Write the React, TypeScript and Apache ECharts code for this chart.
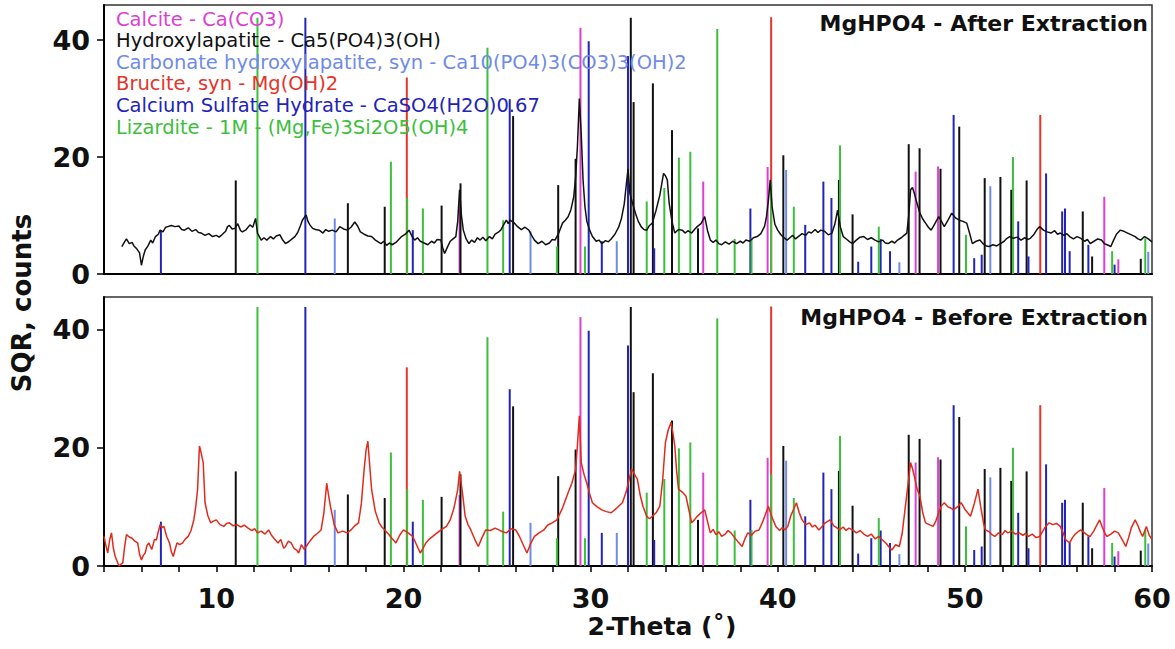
import React, { useEffect, useRef } from "react";
import * as echarts from "echarts";

// ---------- axis ranges & ticks ----------
const X_MIN = 4;
const X_MAX = 60;
const X_TICK_STEP = 2;
const X_LABELS = [10, 20, 30, 40, 50, 60];
const Y_MAX_TOP = 46;
const Y_MAX_BOTTOM = 45.5;
const Y_TICKS = [0, 20, 40];

// ---------- measured patterns (2θ, SQR counts) ----------
const afterTheta = [4.95, 5.1, 5.2, 5.35, 5.5, 5.6, 5.75, 5.9, 6.0, 6.1, 6.2, 6.35, 6.5, 6.6, 6.75, 6.9, 7.0, 7.15, 7.3, 7.4, 7.6, 7.8, 8.0, 8.15, 8.3, 8.5, 8.7, 8.9, 9.05, 9.2, 9.4, 9.6, 9.8, 10.0, 10.15, 10.3, 10.5, 10.6, 10.7, 10.85, 11.0, 11.15, 11.3, 11.4, 11.6, 11.8, 11.95, 12.1, 12.2, 12.4, 12.55, 12.7, 12.9, 13.05, 13.2, 13.4, 13.55, 13.7, 13.9, 14.05, 14.2, 14.35, 14.5, 14.6, 14.8, 14.9, 15.0, 15.15, 15.3, 15.5, 15.7, 15.85, 16.0, 16.2, 16.4, 16.6, 16.8, 17.0, 17.2, 17.4, 17.55, 17.7, 17.9, 18.1, 18.3, 18.5, 18.65, 18.8, 18.95, 19.1, 19.25, 19.4, 19.6, 19.75, 19.9, 20.1, 20.3, 20.45, 20.6, 20.75, 20.9, 21.1, 21.3, 21.5, 21.65, 21.8, 22.0, 22.1, 22.2, 22.35, 22.5, 22.65, 22.8, 22.9, 23.0, 23.1, 23.2, 23.35, 23.5, 23.65, 23.8, 23.95, 24.1, 24.25, 24.4, 24.6, 24.75, 24.9, 25.05, 25.2, 25.35, 25.5, 25.6, 25.7, 25.9, 26.1, 26.3, 26.5, 26.7, 26.85, 27.0, 27.2, 27.4, 27.6, 27.8, 27.95, 28.1, 28.3, 28.5, 28.65, 28.8, 28.95, 29.1, 29.2, 29.3, 29.4, 29.5, 29.6, 29.7, 29.8, 29.95, 30.1, 30.3, 30.45, 30.6, 30.8, 30.95, 31.1, 31.3, 31.5, 31.65, 31.8, 31.9, 32.0, 32.1, 32.25, 32.4, 32.55, 32.7, 32.85, 33.0, 33.15, 33.3, 33.5, 33.7, 33.9, 34.0, 34.1, 34.2, 34.35, 34.5, 34.7, 34.9, 35.05, 35.2, 35.4, 35.55, 35.7, 35.9, 36.1, 36.25, 36.4, 36.55, 36.7, 36.85, 37.0, 37.2, 37.4, 37.6, 37.8, 38.0, 38.15, 38.3, 38.5, 38.7, 38.9, 39.1, 39.3, 39.4, 39.5, 39.6, 39.7, 39.85, 40.0, 40.15, 40.3, 40.5, 40.65, 40.8, 40.95, 41.1, 41.3, 41.5, 41.65, 41.8, 42.0, 42.15, 42.3, 42.5, 42.7, 42.9, 43.05, 43.2, 43.35, 43.5, 43.7, 43.85, 44.0, 44.2, 44.4, 44.6, 44.8, 45.0, 45.2, 45.4, 45.6, 45.75, 45.9, 46.1, 46.25, 46.4, 46.6, 46.75, 46.9, 47.0, 47.1, 47.2, 47.3, 47.45, 47.6, 47.75, 47.9, 48.05, 48.2, 48.4, 48.6, 48.75, 48.9, 49.1, 49.3, 49.5, 49.7, 49.9, 50.1, 50.25, 50.4, 50.6, 50.8, 51.0, 51.15, 51.3, 51.5, 51.7, 51.9, 52.1, 52.25, 52.4, 52.6, 52.8, 53.0, 53.2, 53.35, 53.5, 53.7, 53.85, 54.0, 54.2, 54.4, 54.6, 54.8, 54.95, 55.1, 55.3, 55.45, 55.6, 55.8, 56.0, 56.2, 56.4, 56.55, 56.7, 56.9, 57.1, 57.3, 57.45, 57.6, 57.8, 57.95, 58.1, 58.3, 58.5, 58.7, 58.9, 59.1, 59.25, 59.4, 59.6, 59.8, 60.0];
const afterCounts = [4.7, 5.5, 6.0, 5.2, 5.4, 4.8, 4.3, 3.6, 1.5, 3.0, 4.1, 4.8, 5.8, 5.3, 6.4, 6.8, 7.5, 7.2, 8.0, 8.1, 8.3, 8.1, 8.2, 7.6, 7.5, 7.9, 7.3, 7.6, 7.1, 7.0, 6.6, 6.9, 6.4, 6.6, 6.3, 6.7, 7.3, 8.1, 8.3, 7.7, 7.8, 8.6, 7.4, 7.2, 7.6, 8.4, 8.0, 9.5, 7.0, 5.8, 6.2, 5.8, 6.4, 6.0, 6.5, 6.7, 5.8, 5.2, 5.6, 6.0, 6.4, 7.1, 8.3, 9.2, 10.1, 9.0, 8.4, 7.8, 7.6, 7.5, 7.0, 7.6, 7.3, 7.5, 7.2, 8.1, 7.7, 7.5, 8.0, 8.9, 8.2, 7.2, 6.8, 6.5, 6.4, 5.8, 5.5, 5.2, 5.6, 4.9, 5.3, 5.0, 5.4, 5.9, 6.4, 6.8, 7.5, 6.5, 5.8, 6.2, 5.6, 5.3, 5.0, 5.6, 5.3, 5.9, 5.8, 4.5, 3.5, 4.6, 5.6, 6.0, 6.4, 9.0, 14.4, 10.0, 7.5, 6.0, 5.2, 5.8, 5.4, 6.2, 5.8, 6.3, 5.7, 6.4, 6.0, 6.8, 7.1, 7.5, 8.4, 9.2, 8.6, 9.2, 8.8, 8.1, 7.6, 8.0, 7.5, 6.6, 5.8, 5.2, 5.6, 5.0, 5.3, 5.9, 5.8, 7.0, 8.7, 9.2, 9.8, 11.0, 13.2, 16.5, 22.0, 30.0, 24.0, 16.0, 11.5, 9.0, 7.5, 6.4, 5.6, 5.8, 5.2, 5.7, 5.5, 6.0, 6.8, 8.0, 9.5, 12.0, 15.0, 18.0, 13.8, 12.0, 10.4, 9.0, 8.1, 7.6, 7.5, 8.3, 8.7, 10.9, 13.5, 17.2, 16.8, 16.1, 12.1, 9.0, 7.0, 7.6, 7.5, 7.0, 7.4, 7.0, 7.6, 8.1, 8.6, 9.8, 7.4, 5.8, 5.4, 5.8, 5.2, 5.0, 5.5, 5.1, 5.6, 5.2, 5.6, 5.3, 5.8, 5.6, 6.2, 6.4, 6.9, 8.2, 9.8, 12.5, 16.1, 11.5, 8.5, 7.5, 6.8, 6.3, 5.8, 6.2, 6.6, 6.0, 6.4, 6.9, 6.6, 7.2, 7.0, 7.6, 7.1, 7.5, 7.3, 6.7, 7.0, 8.5, 10.9, 8.0, 6.4, 5.9, 5.5, 5.2, 5.8, 6.3, 6.4, 5.9, 6.2, 5.8, 5.5, 5.8, 5.3, 5.2, 5.6, 5.3, 5.8, 6.2, 6.6, 7.0, 10.0, 14.4, 14.8, 13.8, 12.0, 10.4, 9.4, 8.7, 8.0, 7.5, 8.6, 9.8, 9.0, 8.1, 9.2, 10.4, 9.6, 9.2, 9.0, 8.7, 7.0, 5.2, 5.6, 5.8, 5.1, 4.8, 4.7, 5.0, 4.8, 5.2, 5.6, 6.1, 6.4, 6.1, 6.3, 5.8, 6.2, 5.9, 6.1, 6.8, 7.6, 8.1, 7.5, 7.2, 7.0, 7.4, 6.8, 7.0, 6.6, 6.9, 6.4, 6.0, 6.4, 6.1, 5.6, 5.9, 5.2, 5.6, 6.0, 5.8, 5.2, 5.0, 4.7, 5.8, 6.8, 7.5, 7.3, 7.0, 6.7, 6.4, 6.0, 5.8, 6.4, 6.0, 5.5];

const beforeTheta = [4.0, 4.1, 4.2, 4.3, 4.4, 4.5, 4.6, 4.7, 4.8, 4.9, 5.0, 5.1, 5.2, 5.35, 5.5, 5.65, 5.8, 5.9, 6.0, 6.1, 6.2, 6.3, 6.4, 6.55, 6.7, 6.8, 6.9, 7.0, 7.1, 7.2, 7.35, 7.5, 7.6, 7.7, 7.8, 7.9, 8.05, 8.2, 8.35, 8.5, 8.65, 8.8, 8.9, 9.0, 9.1, 9.2, 9.3, 9.4, 9.55, 9.7, 9.85, 10.0, 10.2, 10.4, 10.55, 10.7, 10.9, 11.1, 11.3, 11.5, 11.7, 11.9, 12.05, 12.2, 12.4, 12.6, 12.8, 12.95, 13.1, 13.3, 13.45, 13.6, 13.7, 13.85, 14.0, 14.15, 14.3, 14.4, 14.55, 14.7, 14.8, 15.0, 15.2, 15.4, 15.6, 15.75, 15.9, 16.0, 16.1, 16.3, 16.5, 16.75, 17.0, 17.2, 17.4, 17.6, 17.75, 17.9, 18.0, 18.1, 18.2, 18.3, 18.5, 18.7, 18.85, 19.0, 19.2, 19.4, 19.6, 19.8, 20.0, 20.25, 20.5, 20.7, 20.9, 21.05, 21.2, 21.4, 21.6, 21.8, 22.05, 22.3, 22.5, 22.7, 22.9, 23.0, 23.15, 23.3, 23.45, 23.6, 23.8, 24.0, 24.2, 24.4, 24.65, 24.9, 25.1, 25.3, 25.5, 25.75, 26.0, 26.2, 26.4, 26.6, 26.8, 27.0, 27.25, 27.5, 27.7, 27.95, 28.2, 28.5, 28.8, 29.0, 29.2, 29.3, 29.4, 29.5, 29.65, 29.8, 29.95, 30.1, 30.35, 30.6, 30.85, 31.1, 31.4, 31.7, 31.9, 32.1, 32.2, 32.35, 32.5, 32.65, 32.8, 33.0, 33.15, 33.3, 33.5, 33.7, 33.85, 34.0, 34.15, 34.3, 34.4, 34.5, 34.6, 34.7, 34.9, 35.1, 35.25, 35.4, 35.55, 35.7, 35.9, 36.1, 36.25, 36.4, 36.55, 36.7, 36.85, 37.0, 37.2, 37.35, 37.5, 37.7, 37.9, 38.1, 38.25, 38.4, 38.6, 38.8, 39.0, 39.2, 39.35, 39.5, 39.7, 39.9, 40.1, 40.25, 40.4, 40.55, 40.7, 40.85, 41.0, 41.15, 41.3, 41.5, 41.7, 41.85, 42.0, 42.2, 42.35, 42.5, 42.65, 42.8, 43.0, 43.15, 43.3, 43.5, 43.65, 43.8, 44.0, 44.2, 44.4, 44.6, 44.8, 45.0, 45.2, 45.4, 45.6, 45.8, 45.95, 46.1, 46.3, 46.5, 46.65, 46.8, 46.95, 47.1, 47.2, 47.3, 47.45, 47.6, 47.75, 47.9, 48.1, 48.3, 48.45, 48.6, 48.75, 48.9, 49.1, 49.25, 49.4, 49.6, 49.8, 50.0, 50.15, 50.3, 50.5, 50.7, 50.85, 51.0, 51.1, 51.3, 51.45, 51.6, 51.8, 52.0, 52.15, 52.3, 52.5, 52.7, 52.9, 53.1, 53.25, 53.4, 53.6, 53.8, 54.0, 54.15, 54.3, 54.5, 54.7, 54.9, 55.1, 55.25, 55.4, 55.6, 55.75, 55.9, 56.05, 56.2, 56.4, 56.55, 56.7, 56.9, 57.05, 57.2, 57.35, 57.5, 57.6, 57.8, 58.0, 58.2, 58.4, 58.6, 58.75, 58.9, 59.1, 59.25, 59.4, 59.5, 59.7, 59.85, 60.0];
const beforeCounts = [5.0, 3.5, 2.2, 4.4, 5.6, 3.0, 1.6, 0.8, 0, 0.3, 0.5, 3.2, 5.3, 4.9, 4.7, 4.2, 3.9, 2.0, 1.0, 1.8, 2.2, 3.5, 3.9, 2.8, 4.5, 4.4, 5.8, 7.0, 6.5, 6.7, 5.0, 3.9, 2.4, 1.6, 2.8, 3.9, 3.6, 3.9, 4.6, 5.0, 6.0, 7.8, 10.0, 12.9, 20.3, 19.0, 17.5, 10.7, 8.5, 7.3, 7.6, 7.8, 7.0, 6.7, 7.2, 7.3, 6.8, 7.0, 6.6, 6.9, 6.4, 6.0, 6.3, 5.6, 5.9, 5.4, 6.1, 5.2, 4.6, 3.9, 4.5, 3.0, 3.3, 4.2, 3.9, 3.0, 2.7, 2.2, 3.6, 2.8, 3.3, 4.2, 5.0, 5.5, 6.1, 9.0, 14.0, 12.0, 10.1, 7.0, 5.6, 5.9, 5.6, 6.1, 6.8, 7.3, 10.5, 16.3, 19.5, 21.1, 17.0, 12.9, 9.2, 7.3, 6.6, 6.1, 5.4, 4.6, 3.9, 5.2, 6.1, 5.6, 5.0, 3.6, 2.2, 3.0, 3.9, 4.6, 5.1, 5.6, 6.2, 6.7, 7.8, 9.8, 12.9, 16.0, 12.5, 8.4, 7.0, 6.1, 4.6, 3.3, 4.8, 6.1, 6.0, 6.4, 6.1, 5.8, 5.6, 6.3, 6.1, 5.0, 3.6, 2.2, 3.8, 5.0, 5.6, 6.1, 6.9, 7.3, 7.8, 9.8, 12.4, 14.0, 16.3, 20.5, 25.4, 17.5, 15.5, 14.0, 12.2, 10.7, 10.0, 9.5, 9.2, 9.0, 9.8, 10.7, 12.5, 15.2, 16.4, 15.5, 14.7, 12.0, 10.1, 8.4, 8.0, 8.4, 9.0, 10.1, 14.5, 20.9, 23.0, 24.3, 22.5, 20.3, 16.0, 13.0, 12.5, 11.8, 9.5, 7.3, 7.8, 8.4, 9.0, 9.5, 7.5, 5.6, 6.2, 5.3, 5.8, 5.0, 5.4, 6.0, 5.6, 4.8, 4.0, 3.3, 4.6, 5.6, 5.2, 5.9, 6.1, 7.5, 8.8, 10.1, 8.2, 6.7, 6.0, 6.5, 6.1, 6.8, 8.5, 9.6, 10.7, 9.0, 7.8, 7.0, 7.3, 6.6, 6.9, 6.1, 6.6, 7.2, 7.5, 7.8, 6.8, 6.5, 6.1, 6.6, 6.0, 6.4, 6.1, 5.6, 6.0, 5.4, 5.0, 5.4, 4.6, 5.0, 4.4, 3.8, 3.2, 2.7, 3.6, 3.3, 5.5, 9.5, 13.5, 17.5, 16.5, 15.2, 13.0, 11.8, 9.0, 7.3, 7.0, 6.7, 7.6, 9.0, 10.2, 10.7, 10.0, 9.8, 9.5, 10.0, 10.7, 9.6, 9.0, 8.4, 10.5, 13.0, 10.0, 7.2, 6.1, 5.8, 5.3, 5.0, 5.6, 5.3, 6.0, 5.6, 5.9, 5.4, 5.6, 5.2, 5.5, 5.0, 5.4, 4.8, 5.0, 5.8, 6.6, 7.3, 7.0, 7.2, 6.7, 5.6, 4.4, 3.9, 4.8, 5.4, 5.8, 6.1, 5.6, 5.2, 5.0, 6.0, 6.9, 7.8, 6.5, 5.4, 5.0, 5.4, 5.9, 5.6, 4.5, 3.3, 4.8, 6.5, 7.8, 6.8, 5.6, 5.0, 6.7, 5.2, 4.5];

// ---------- reference stick patterns (2θ, relative height) ----------
const calciteTheta = [23.0, 29.46, 36.02, 39.46, 47.37, 48.57, 57.45, 58.2];
const calciteHeight = [12, 42.1, 15.8, 18.3, 17.5, 18.4, 13.2, 2.5];

const hapTheta = [11.04, 17.03, 19.0, 22.04, 23.05, 25.86, 28.27, 29.2, 32.15, 32.3, 33.33, 34.35, 35.74, 40.3, 43.27, 44.0, 47.0, 47.58, 48.7, 49.7, 51.06, 51.9, 52.48, 53.3, 56.3, 56.8, 59.4];
const hapHeight = [16, 12.1, 11.5, 11.7, 15.5, 27, 15.2, 19.7, 43.8, 29.4, 32.6, 24.6, 7.8, 20.3, 16.1, 10.2, 22.2, 21.5, 18, 25.2, 16.4, 16.6, 14.4, 16, 10.7, 3, 2.6];

const carbTheta = [16.33, 26.79, 31.4, 40.45, 46.5, 51.36, 59.8];
const carbHeight = [9.5, 7.3, 5.6, 17.8, 2, 15, 3.8];

const bruciteTheta = [20.18, 39.65, 54.03];
const bruciteHeight = [33.6, 43.9, 27.2];

const caso4Theta = [7.04, 14.76, 20.5, 25.68, 29.9, 30.6, 32.0, 33.4, 38.54, 41.47, 42.44, 42.87, 44.3, 45.0, 45.5, 46.0, 49.4, 50.5, 50.9, 52.85, 53.4, 54.34, 55.2, 55.35, 55.6, 56.6, 58.0];
const caso4Height = [7.5, 43.8, 7.5, 29.9, 39.8, 5.6, 37.3, 4.4, 11.2, 8.4, 15.8, 13, 2.1, 4.7, 6, 3.9, 27.2, 2.7, 3.3, 9, 3, 17.2, 10.7, 11.2, 3.9, 5, 1.6];

const lizTheta = [12.2, 19.33, 20.2, 21.04, 24.49, 25.33, 28.2, 29.7, 33.0, 33.94, 34.72, 35.33, 36.77, 37.7, 38.6, 39.65, 40.86, 43.33, 45.4, 50.06, 52.57, 57.87, 59.64];
const lizHeight = [43.8, 19.2, 13, 11.2, 38.7, 9.2, 4.7, 4.7, 12.4, 14.7, 19.9, 20.9, 41.9, 6, 6.1, 15.5, 11.5, 22, 8.1, 6.7, 20, 3.9, 6.1];

const phaseLabels = [
  "Calcite - Ca(CO3)",
  "Hydroxylapatite - Ca5(PO4)3(OH)",
  "Carbonate hydroxylapatite, syn - Ca10(PO4)3(CO3)3(OH)2",
  "Brucite, syn - Mg(OH)2",
  "Calcium Sulfate Hydrate - CaSO4(H2O)0.67",
  "Lizardite - 1M - (Mg,Fe)3Si2O5(OH)4",
];
const phaseColors = ["#dd3fd0", "#111111", "#6f8be6", "#e5342a", "#2323b8", "#3cbf3c"];
const phaseTheta = [calciteTheta, hapTheta, carbTheta, bruciteTheta, caso4Theta, lizTheta];
const phaseHeight = [calciteHeight, hapHeight, carbHeight, bruciteHeight, caso4Height, lizHeight];

const panelTitles = ["MgHPO4 - After Extraction", "MgHPO4 - Before Extraction"];
const xAxisName = "2-Theta (˚)";
const yAxisName = "SQR, counts";

const zip = (a: number[], b: number[]) => a.map((v, i) => [v, b[i]]);

export default function App() {
  const ref = useRef<HTMLDivElement>(null);
  useEffect(() => {
    if (!ref.current) return;
    const chart = echarts.init(ref.current, null, { renderer: "svg" });

    const stickSeries: any[] = [];
    [0, 1].forEach((g) => {
      phaseTheta.forEach((th, i) => {
        stickSeries.push({
          type: "custom",
          xAxisIndex: g,
          yAxisIndex: g,
          clip: true,
          z: 2,
          encode: { x: 0, y: 1 },
          data: zip(th, phaseHeight[i]),
          renderItem: (_p: any, api: any) => {
            const x = api.value(0);
            const h = api.value(1);
            const p0 = api.coord([x, 0]);
            const p1 = api.coord([x, h]);
            return {
              type: "line",
              shape: { x1: p0[0], y1: p0[1], x2: p1[0], y2: p1[1] },
              style: { stroke: phaseColors[i], lineWidth: 2 },
            };
          },
        });
      });
    });

    const yAxisCommon = (g: number, max: number) => ({
      type: "value",
      gridIndex: g,
      min: 0,
      max,
      interval: 20,
      splitLine: { show: false },
      axisLine: { show: true, lineStyle: { color: "#000", width: 2 } },
      axisTick: { show: true, length: 7, inside: false, customValues: Y_TICKS, lineStyle: { color: "#000", width: 1.5 } },
      axisLabel: {
        customValues: Y_TICKS,
        formatter: (v: number) => (v % 20 === 0 ? String(v) : ""),
        fontFamily: "DejaVu Sans",
        fontWeight: "bold",
        fontSize: 27,
        color: "#111",
        margin: 14,
      },
    });

    const legendTexts = phaseLabels.map((t, i) => ({
      type: "text",
      left: 116,
      top: 9 + i * 21.6,
      z: 10,
      style: {
        text: t,
        fill: phaseColors[i],
        font: "19.5px 'DejaVu Sans'",
      },
    }));

    chart.setOption({
      animation: false,
      backgroundColor: "#fff",
      grid: [
        { left: 104, right: 23, top: 5, height: 269, show: true, borderColor: "#333", borderWidth: 1.5 },
        { left: 104, right: 23, top: 297, height: 269, show: true, borderColor: "#333", borderWidth: 1.5 },
      ],
      xAxis: [
        {
          type: "value",
          gridIndex: 0,
          min: X_MIN,
          max: X_MAX,
          interval: X_TICK_STEP,
          splitLine: { show: false },
          axisLine: { show: true, lineStyle: { color: "#000", width: 2 } },
          axisTick: { show: false },
          axisLabel: { show: false },
        },
        {
          type: "value",
          gridIndex: 1,
          min: X_MIN,
          max: X_MAX,
          interval: X_TICK_STEP,
          splitLine: { show: false },
          axisLine: { show: true, lineStyle: { color: "#000", width: 2 } },
          axisTick: { show: true, length: 6, lineStyle: { color: "#000", width: 1.5 } },
          axisLabel: {
            formatter: (v: number) => (X_LABELS.includes(v) ? String(v) : ""),
            fontFamily: "DejaVu Sans",
            fontWeight: "bold",
            fontSize: 27,
            color: "#111",
            margin: 19,
          },
        },
      ],
      yAxis: [yAxisCommon(0, Y_MAX_TOP), yAxisCommon(1, Y_MAX_BOTTOM)],
      series: [
        ...stickSeries,
        {
          type: "line",
          xAxisIndex: 0,
          yAxisIndex: 0,
          z: 5,
          data: zip(afterTheta, afterCounts),
          showSymbol: false,
          lineStyle: { color: "#111", width: 1.5 },
        },
        {
          type: "line",
          xAxisIndex: 1,
          yAxisIndex: 1,
          z: 5,
          data: zip(beforeTheta, beforeCounts),
          showSymbol: false,
          lineStyle: { color: "#e02a1c", width: 1.5 },
        },
      ],
      graphic: [
        ...legendTexts,
        {
          type: "text",
          right: 27,
          top: 12,
          z: 10,
          style: { text: panelTitles[0], fill: "#111", font: "bold 22px 'DejaVu Sans'" },
        },
        {
          type: "text",
          right: 27,
          top: 306,
          z: 10,
          style: { text: panelTitles[1], fill: "#111", font: "bold 22px 'DejaVu Sans'" },
        },
        {
          type: "text",
          x: 662,
          y: 626,
          style: { text: xAxisName, fill: "#111", font: "bold 25px 'DejaVu Sans'", textAlign: "center", textVerticalAlign: "middle" },
        },
        {
          type: "text",
          x: 22,
          y: 303,
          rotation: Math.PI / 2,
          style: { text: yAxisName, fill: "#111", font: "bold 26px 'DejaVu Sans'", textAlign: "center", textVerticalAlign: "middle" },
        },
      ],
    });
    return () => chart.dispose();
  }, []);
  return <div ref={ref} style={{ position: "fixed", left: 0, top: 0, width: 1175, height: 649, background: "#fff" }} />;
}
